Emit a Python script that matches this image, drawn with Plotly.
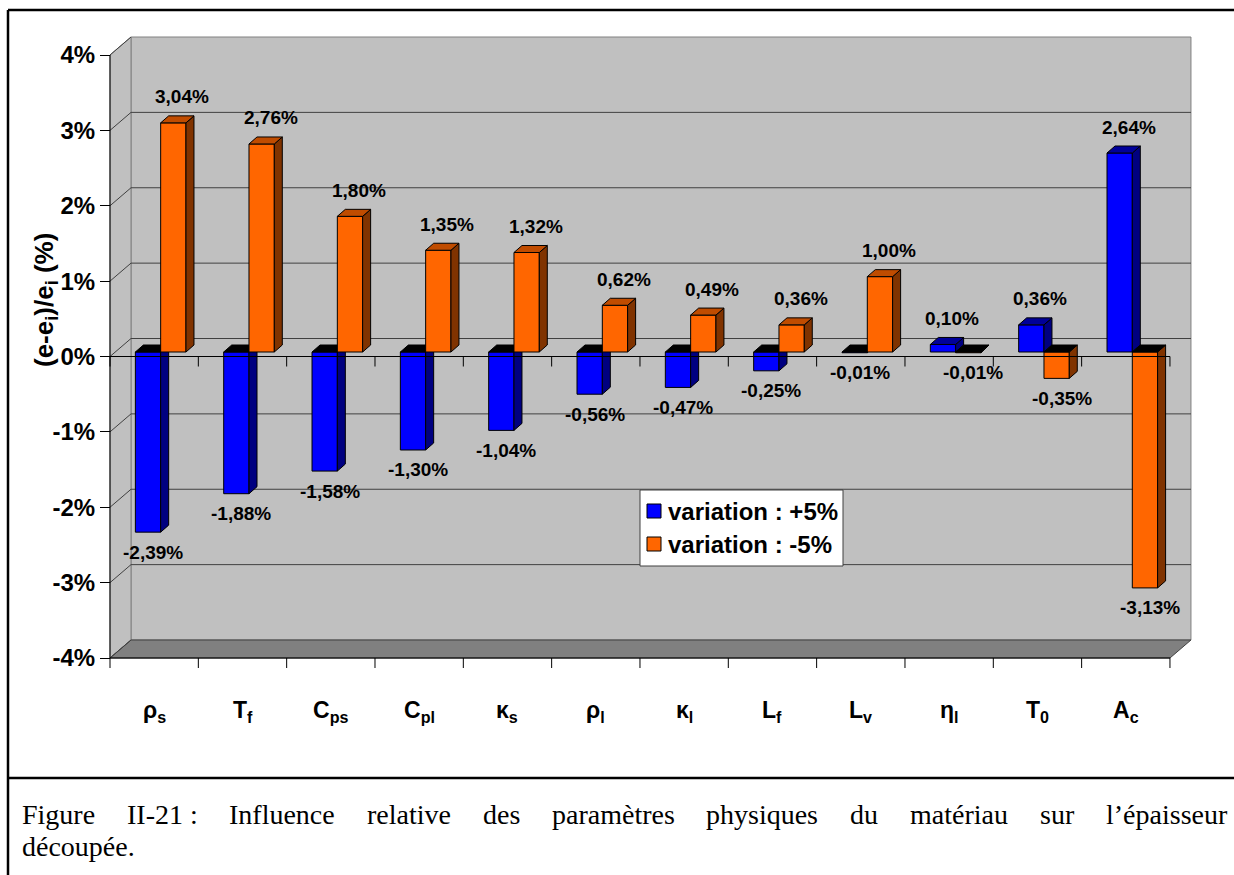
import plotly.graph_objects as go

# ---- data -------------------------------------------------------------
params = ["ρ<sub>s</sub>", "T<sub>f</sub>", "C<sub>ps</sub>", "C<sub>pl</sub>", "κ<sub>s</sub>",
          "ρ<sub>l</sub>", "κ<sub>l</sub>", "L<sub>f</sub>", "L<sub>v</sub>", "η<sub>l</sub>",
          "T<sub>0</sub>", "A<sub>c</sub>"]
var_plus = [-2.39, -1.88, -1.58, -1.30, -1.04, -0.56, -0.47, -0.25, -0.01, 0.10, 0.36, 2.64]
var_minus = [3.04, 2.76, 1.80, 1.35, 1.32, 0.62, 0.49, 0.36, 1.00, -0.01, -0.35, -3.13]
y_ticks = [-4, -3, -2, -1, 0, 1, 2, 3, 4]
series_names = ["variation : +5%", "variation : -5%"]
y_title = "(e-e<sub>i</sub>)/e<sub>i</sub> (%)"
caption_words = ["Figure", "II-21 :", "Influence", "relative", "des", "paramètres",
                 "physiques", "du", "matériau", "sur", "l’épaisseur"]
caption_last = "découpée."

# ---- layout geometry (pixels) -------------------------------------------
W_FIG, H_FIG = 1234, 875
M_L, M_R, M_T, M_B = 100, 29, 30, 205
CAT_PX = 88.33          # width of one category on the front plane
PCT_PX = 75.375         # height of 1 % on the front plane
X0_PX = 110             # front value axis
Y0_PX = 356.5           # front zero level

X_MIN = -(X0_PX - M_L) / CAT_PX
X_MAX = X_MIN + (W_FIG - M_L - M_R) / CAT_PX
Y_MAX = (Y0_PX - M_T) / PCT_PX
Y_MIN = Y_MAX - (H_FIG - M_T - M_B) / PCT_PX


def xpaper(px):
    return (px - M_L) / (W_FIG - M_L - M_R)


def ypaper(py):
    return (H_FIG - M_B - py) / (H_FIG - M_T - M_B)


# pseudo-3D offsets, expressed in axis units
WALL_DX, WALL_DY = 21 / CAT_PX, 18 / PCT_PX
BAR_W = 25.3 / CAT_PX
BAR_DX, BAR_DY = 8 / CAT_PX, 7 / PCT_PX
BAR_SHIFT = 6.5 / CAT_PX
BAR_BASE = 4.5 / PCT_PX
TICK = 10 / PCT_PX

n = len(params)
FONT = "Liberation Sans"

styles = [
    dict(front="#0000FF", side="#000080", top="#000099"),
    dict(front="#FF6600", side="#803300", top="#C04C00"),
]


def face_polys(centers, values):
    side, top_pos, top_neg = ([], []), ([], []), ([], [])
    for c, v in zip(centers, values):
        x0, x1 = c - BAR_W / 2, c + BAR_W / 2
        y_lo = min(BAR_BASE, BAR_BASE + v)
        y_hi = max(BAR_BASE, BAR_BASE + v)
        sx = [x1, x1 + BAR_DX, x1 + BAR_DX, x1, x1, None]
        sy = [y_lo, y_lo + BAR_DY, y_hi + BAR_DY, y_hi, y_lo, None]
        side[0].extend(sx)
        side[1].extend(sy)
        tx = [x0, x0 + BAR_DX, x1 + BAR_DX, x1, x0, None]
        ty = [y_hi, y_hi + BAR_DY, y_hi + BAR_DY, y_hi, y_hi, None]
        tgt = top_pos if v >= 0 else top_neg
        tgt[0].extend(tx)
        tgt[1].extend(ty)
    return side, top_pos, top_neg


fig = go.Figure()
annotations = []

for k, (vals, name, st) in enumerate(zip([var_plus, var_minus], series_names, styles)):
    xa, ya = ("x", "y") if k == 0 else ("x2", "y2")
    centers = [i + 0.5 + BAR_SHIFT + (k - 0.5) * BAR_W for i in range(n)]
    fig.add_trace(go.Bar(
        x=centers, y=vals, base=[BAR_BASE] * n, width=BAR_W, name=name,
        marker=dict(color=st["front"], line=dict(color="black", width=1)),
        xaxis=xa, yaxis=ya, hoverinfo="skip", showlegend=False,
    ))
    side, top_pos, top_neg = face_polys(centers, vals)
    for (px_, py_), col in [(side, st["side"]), (top_pos, st["top"]), (top_neg, "#000000")]:
        if not px_:
            continue
        fig.add_trace(go.Scatter(
            x=px_, y=py_, mode="lines", fill="toself", fillcolor=col,
            line=dict(color="black", width=1), showlegend=False, hoverinfo="skip",
            xaxis=xa, yaxis=ya,
        ))
    for c, v in zip(centers, vals):
        txt = f"{v:.2f}".replace(".", ",") + "%"
        if v >= 0:
            ax, ay = c + 9 / CAT_PX, BAR_BASE + v + 26 / PCT_PX
        else:
            ax, ay = c + 5 / CAT_PX, BAR_BASE + v - 20 / PCT_PX
        annotations.append(dict(
            x=ax, y=ay, xref="x", yref="y", text=txt, showarrow=False,
            xanchor="center", yanchor="middle",
            font=dict(family=FONT, size=19, color="black", weight="bold"),
        ))

# ---- walls, floor and grid ------------------------------------------------
shapes = []
wall_line = dict(color="#808080", width=1)
shapes.append(dict(type="rect", xref="x", yref="y", layer="below",
                   x0=WALL_DX, x1=n + WALL_DX, y0=-4 + WALL_DY, y1=4 + WALL_DY,
                   fillcolor="#C0C0C0", line=wall_line))
shapes.append(dict(type="path", xref="x", yref="y", layer="below",
                   path=f"M0,-4 L0,4 L{WALL_DX},{4 + WALL_DY} L{WALL_DX},{-4 + WALL_DY} Z",
                   fillcolor="#C0C0C0", line=wall_line))
shapes.append(dict(type="path", xref="x", yref="y", layer="below",
                   path=f"M0,-4 L{WALL_DX},{-4 + WALL_DY} L{n + WALL_DX},{-4 + WALL_DY} L{n},-4 Z",
                   fillcolor="#808080", line=dict(color="#404040", width=1)))
for t in y_ticks:
    if -4 < t < 4:
        shapes.append(dict(type="line", xref="x", yref="y", layer="below",
                           x0=WALL_DX, x1=n + WALL_DX, y0=t + WALL_DY, y1=t + WALL_DY,
                           line=dict(color="#404040", width=1)))
    shapes.append(dict(type="line", xref="x", yref="y", layer="below",
                       x0=0, x1=WALL_DX, y0=t, y1=t + WALL_DY,
                       line=dict(color="#404040", width=1)))

# front axes: value axis line, zero category axis, floor edge with ticks
axis_line = dict(color="black", width=1)
shapes.append(dict(type="line", xref="x", yref="y", layer="above",
                   x0=0, x1=0, y0=-4, y1=4, line=axis_line))
for yl in (0, -4):
    shapes.append(dict(type="line", xref="x", yref="y", layer="above",
                       x0=0, x1=n, y0=yl, y1=yl, line=axis_line))
    for i in range(n + 1):
        shapes.append(dict(type="line", xref="x", yref="y", layer="above",
                           x0=i, x1=i, y0=yl, y1=yl - TICK, line=axis_line))

# legend box with colour keys
shapes.append(dict(type="rect", xref="paper", yref="paper", layer="above",
                   x0=xpaper(640), x1=xpaper(843), y0=ypaper(490), y1=ypaper(566),
                   fillcolor="white", line=dict(color="#404040", width=1)))
for row, (name, st) in enumerate(zip(series_names, styles)):
    cy = 511 + row * 33
    shapes.append(dict(type="rect", xref="paper", yref="paper", layer="above",
                       x0=xpaper(647), x1=xpaper(661), y0=ypaper(cy - 7), y1=ypaper(cy + 7),
                       fillcolor=st["front"], line=dict(color="black", width=1)))
    annotations.append(dict(
        x=xpaper(666), y=ypaper(cy), xref="paper", yref="paper", text=name,
        showarrow=False, xanchor="left", yanchor="middle",
        font=dict(family=FONT, size=24, color="black", weight="bold"),
    ))

# outer frame and caption separator
frame = dict(color="black", width=2.5)
shapes.append(dict(type="line", xref="paper", yref="paper",
                   x0=xpaper(8), x1=xpaper(1240), y0=ypaper(10), y1=ypaper(10), line=frame))
shapes.append(dict(type="line", xref="paper", yref="paper",
                   x0=xpaper(8), x1=xpaper(8), y0=ypaper(10), y1=ypaper(880), line=frame))
shapes.append(dict(type="line", xref="paper", yref="paper",
                   x0=xpaper(8), x1=xpaper(1240), y0=ypaper(778), y1=ypaper(778), line=frame))

# ---- category labels ------------------------------------------------------
for i, lab in enumerate(params):
    annotations.append(dict(
        x=i + 0.5, y=ypaper(711), xref="x", yref="paper", text=lab, showarrow=False,
        xanchor="center", yanchor="middle",
        font=dict(family=FONT, size=23, color="black", weight="bold"),
    ))

# value-axis title
annotations.append(dict(
    x=xpaper(45), y=ypaper(300), xref="paper", yref="paper", text=y_title,
    showarrow=False, textangle=-90, xanchor="center", yanchor="middle",
    font=dict(family=FONT, size=26, color="black", weight="bold"),
))

# ---- caption (first line justified) -----------------------------------------
CAP_SIZE = 28
times_w = {
    "F": .556, "i": .278, "g": .5, "u": .5, "r": .333, "e": .444, "I": .333, "-": .333,
    "2": .5, "1": .5, ":": .278, " ": .25, "n": .5, "f": .333, "l": .278, "c": .444,
    "a": .444, "t": .278, "v": .5, "d": .5, "s": .389, "p": .5, "m": .778, "è": .444,
    "h": .5, "y": .5, "q": .5, "é": .444, "’": .333, "o": .5, ".": .25,
}
widths = [sum(times_w.get(ch, .5) for ch in w) * CAP_SIZE for w in caption_words]
left, right = 20, 1225
gap = (right - left - sum(widths)) / (len(caption_words) - 1)
pos = left
cap_font = dict(family="Liberation Serif", size=CAP_SIZE, color="black")
for w, wd in zip(caption_words, widths):
    annotations.append(dict(
        x=xpaper(pos), y=ypaper(814), xref="paper", yref="paper", text=w,
        showarrow=False, xanchor="left", yanchor="middle", font=cap_font,
    ))
    pos += wd + gap
annotations.append(dict(
    x=xpaper(left), y=ypaper(846), xref="paper", yref="paper", text=caption_last,
    showarrow=False, xanchor="left", yanchor="middle", font=cap_font,
))

fig.update_layout(
    width=W_FIG, height=H_FIG,
    margin=dict(l=M_L, r=M_R, t=M_T, b=M_B),
    paper_bgcolor="white", plot_bgcolor="white",
    barmode="overlay",
    xaxis=dict(range=[X_MIN, X_MAX], visible=False),
    xaxis2=dict(range=[X_MIN, X_MAX], visible=False, overlaying="x"),
    yaxis=dict(
        range=[Y_MIN, Y_MAX], anchor="free", position=xpaper(X0_PX),
        tickvals=y_ticks, ticktext=[f"{t}%" for t in y_ticks],
        ticks="outside", ticklen=10, tickwidth=1, tickcolor="black",
        showgrid=False, zeroline=False, showline=False,
        tickfont=dict(family=FONT, size=24, color="black", weight="bold"),
    ),
    yaxis2=dict(range=[Y_MIN, Y_MAX], visible=False, overlaying="y"),
    shapes=shapes,
    annotations=annotations,
    showlegend=False,
)

fig.write_html("out.html")
